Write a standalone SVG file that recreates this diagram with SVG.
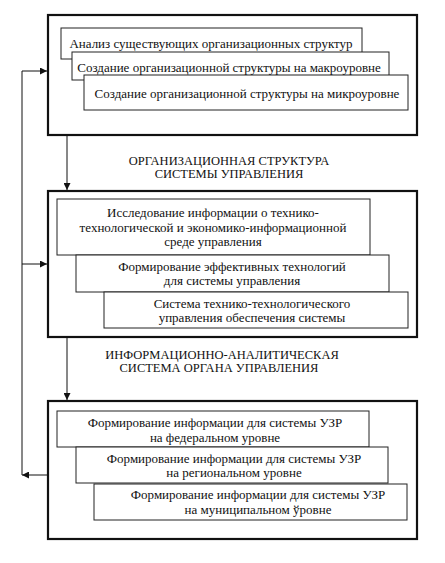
<svg xmlns="http://www.w3.org/2000/svg" width="445" height="563" viewBox="0 0 445 563">
<style>
.outer{fill:#fff;stroke:#111;stroke-width:2.2}
.inner{fill:#fff;stroke:#222;stroke-width:1}
.t{font-family:"Liberation Serif","Times New Roman",serif;font-size:13px;fill:#111;text-anchor:middle;dominant-baseline:central}
.h{font-family:"Liberation Serif","Times New Roman",serif;font-size:12.5px;fill:#111;text-anchor:middle;dominant-baseline:central}
.c{fill:none;stroke:#111;stroke-width:1}
</style>
<defs>
<marker id="ah" viewBox="0 0 10 10" refX="10" refY="5" markerWidth="7" markerHeight="7" markerUnits="userSpaceOnUse" orient="auto">
<path d="M0,0 L10,5 L0,10 z" fill="#111"/>
</marker>
</defs>
<rect width="445" height="563" fill="#fff"/>
<g id="connectors">
<path class="c" d="M67,136 V190" marker-end="url(#ah)"/>
<path class="c" d="M67,338 V400" marker-end="url(#ah)"/>
<path class="c" d="M48,475 H22" marker-end="url(#ah)"/>
<path class="c" d="M22,475 V71 H47" marker-end="url(#ah)"/>
<path class="c" d="M22,264 H47" marker-end="url(#ah)"/>
</g>
<g id="block1">
<rect class="outer" x="48" y="15" width="369" height="120"/>
<g id="n1"><rect class="inner" x="61" y="28" width="301" height="31"/><text class="t" x="211" y="43">Анализ существующих организационных структур</text></g>
<g id="n2"><rect class="inner" x="72" y="52" width="317" height="28"/><text class="t" x="229" y="67">Создание организационной структуры на макроуровне</text></g>
<g id="n3"><rect class="inner" x="84" y="75" width="324" height="35"/><text class="t" x="247" y="93">Создание организационной структуры на микроуровне</text></g>
</g>
<g id="title1">
<text class="h" x="229" y="161">ОРГАНИЗАЦИОННАЯ СТРУКТУРА</text>
<text class="h" x="229" y="174">СИСТЕМЫ УПРАВЛЕНИЯ</text>
</g>
<g id="block2">
<rect class="outer" x="48" y="191" width="369" height="146"/>
<g id="n4"><rect class="inner" x="57" y="199" width="313" height="56"/>
<text class="t" x="213" y="212">Исследование информации о технико-</text>
<text class="t" x="213" y="227">технологической и экономико-информационной</text>
<text class="t" x="213" y="241">среде управления</text></g>
<g id="n5"><rect class="inner" x="76" y="255" width="313" height="37"/>
<text class="t" x="232" y="266">Формирование эффективных технологий</text>
<text class="t" x="232" y="280">для системы управления</text></g>
<g id="n6"><rect class="inner" x="104" y="292" width="304" height="36"/>
<text class="t" x="252" y="303">Система технико-технологического</text>
<text class="t" x="252" y="317">управления обеспечения системы</text></g>
</g>
<g id="title2">
<text class="h" x="222" y="355">ИНФОРМАЦИОННО-АНАЛИТИЧЕСКАЯ</text>
<text class="h" x="219" y="368">СИСТЕМА ОРГАНА УПРАВЛЕНИЯ</text>
</g>
<g id="block3">
<rect class="outer" x="48" y="401" width="369" height="138"/>
<g id="n7"><rect class="inner" x="57" y="411" width="312" height="36"/>
<text class="t" x="215" y="422">Формирование информации для системы УЗР</text>
<text class="t" x="215" y="437">на федеральном уровне</text></g>
<g id="n8"><rect class="inner" x="76" y="447" width="312" height="36"/>
<text class="t" x="234" y="458">Формирование информации для системы УЗР</text>
<text class="t" x="234" y="472">на региональном уровне</text></g>
<g id="n9"><rect class="inner" x="94" y="484" width="313" height="36"/>
<text class="t" x="258" y="494.5">Формирование информации для системы УЗР</text>
<text class="t" x="258" y="509">на муниципальном ўровне</text></g>
</g>
</svg>
